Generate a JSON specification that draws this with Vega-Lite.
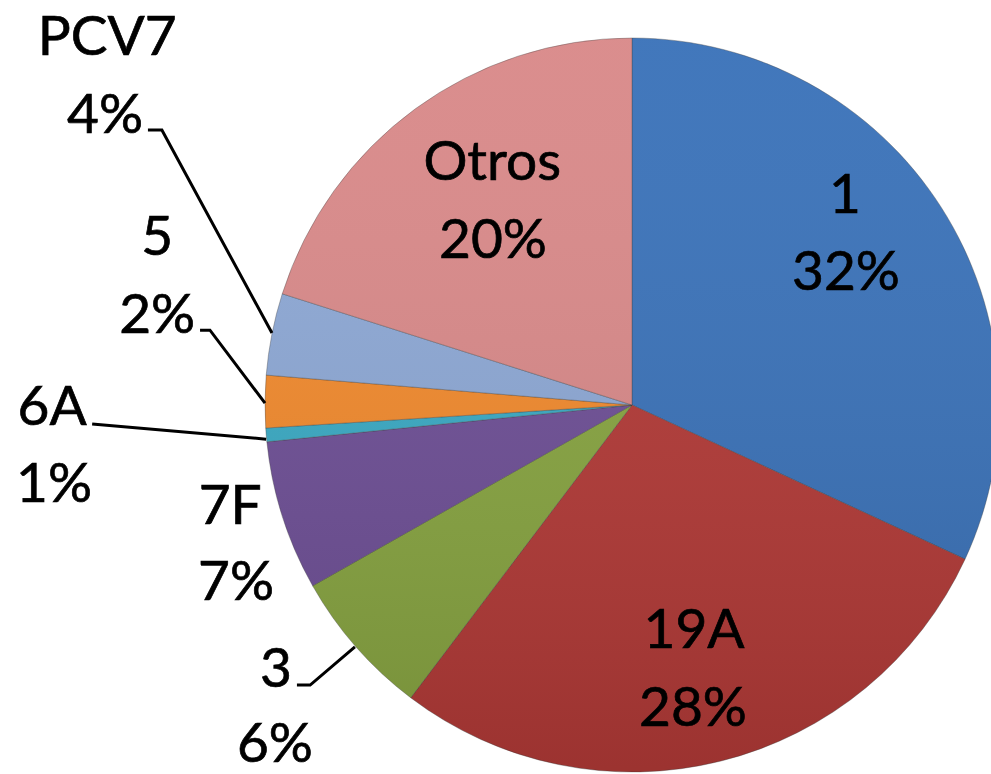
{
  "$schema": "https://vega.github.io/schema/vega-lite/v6.json",
  "width": 991,
  "height": 774,
  "autosize": "none",
  "padding": 0,
  "background": "white",
  "config": {"view": {"stroke": null}},
  "datasets": {
    "slices": [
      {"idx": 1, "serotipo": "1", "valor": 31.9},
      {"idx": 2, "serotipo": "19A", "valor": 28.4},
      {"idx": 3, "serotipo": "3", "valor": 6.5},
      {"idx": 4, "serotipo": "7F", "valor": 6.6},
      {"idx": 5, "serotipo": "6A", "valor": 0.6},
      {"idx": 6, "serotipo": "5", "valor": 2.3},
      {"idx": 7, "serotipo": "PCV7", "valor": 3.6},
      {"idx": 8, "serotipo": "Otros", "valor": 20.1}
    ],
    "labels": [
      {"t": "1", "lx": 58.0, "ly": 52.3},
      {"t": "32%", "lx": 58.3, "ly": 31.3},
      {"t": "Otros", "lx": -38.1, "ly": 61.3},
      {"t": "20%", "lx": -37.9, "ly": 40.0},
      {"t": "19A", "lx": 16.9, "ly": -66.2},
      {"t": "28%", "lx": 16.6, "ly": -87.5},
      {"t": "PCV7", "lx": -143.0, "ly": 95.4},
      {"t": "4%", "lx": -143.6, "ly": 74.1},
      {"t": "5", "lx": -129.4, "ly": 40.9},
      {"t": "2%", "lx": -129.4, "ly": 19.6},
      {"t": "6A", "lx": -158.0, "ly": -5.4},
      {"t": "1%", "lx": -157.5, "ly": -26.4},
      {"t": "7F", "lx": -109.5, "ly": -32.4},
      {"t": "7%", "lx": -107.9, "ly": -53.1},
      {"t": "3", "lx": -97.0, "ly": -76.8},
      {"t": "6%", "lx": -97.3, "ly": -97.3}
    ],
    "leaders": [
      {"g": "PCV7", "i": 1, "px": -131.9, "py": 74.9},
      {"g": "PCV7", "i": 2, "px": -128.1, "py": 74.9},
      {"g": "PCV7", "i": 3, "px": -98.1, "py": 19.6},
      {"g": "5", "i": 1, "px": -117.7, "py": 20.4},
      {"g": "5", "i": 2, "px": -115.0, "py": 20.4},
      {"g": "5", "i": 3, "px": -100.0, "py": 0.5},
      {"g": "6A", "i": 1, "px": -147.1, "py": -5.2},
      {"g": "6A", "i": 2, "px": -99.7, "py": -9.3},
      {"g": "3", "i": 1, "px": -91.3, "py": -76.3},
      {"g": "3", "i": 2, "px": -87.7, "py": -76.3},
      {"g": "3", "i": 3, "px": -75.5, "py": -65.9}
    ]
  },
  "resolve": {"scale": {"x": "shared", "y": "shared"}},
  "layer": [
    {
      "data": {"name": "slices"},
      "mark": {"type": "arc", "radius": 367, "stroke": "#3a3a3a", "strokeOpacity": 0.35, "strokeWidth": 1},
      "encoding": {
        "x": {"datum": 0, "type": "quantitative", "scale": {"domain": [-172.21, 97.82], "nice": false, "zero": false}, "axis": null},
        "y": {"datum": 0, "type": "quantitative", "scale": {"domain": [-100.54, 110.35], "nice": false, "zero": false}, "axis": null},
        "theta": {"field": "valor", "type": "quantitative", "stack": true},
        "order": {"field": "idx", "type": "quantitative"},
        "color": {
          "field": "serotipo",
          "type": "nominal",
          "legend": null,
          "scale": {
            "domain": ["1", "19A", "3", "7F", "6A", "5", "PCV7", "Otros"],
            "range": ["#3A72B9", "#B33A37", "#88A541", "#6E4F96", "#3AAAC4", "#F28A2D", "#8DA8D5", "#D98989"]
          }
        }
      }
    },
    {
      "data": {"values": [{"k": 1}]},
      "mark": {
        "type": "arc",
        "radius": 367,
        "theta": 0,
        "theta2": 6.2832,
        "fill": {
          "gradient": "linear",
          "x1": 0, "y1": 0, "x2": 0, "y2": 1,
          "stops": [
            {"offset": 0, "color": "rgba(255,255,255,0.04)"},
            {"offset": 1, "color": "rgba(0,0,0,0.13)"}
          ]
        }
      },
      "encoding": {
        "x": {"datum": 0, "type": "quantitative"},
        "y": {"datum": 0, "type": "quantitative"}
      }
    },
    {
      "data": {"name": "leaders"},
      "mark": {"type": "line", "color": "#000000", "strokeWidth": 3},
      "encoding": {
        "x": {"field": "px", "type": "quantitative"},
        "y": {"field": "py", "type": "quantitative"},
        "detail": {"field": "g"},
        "order": {"field": "i", "type": "quantitative"}
      }
    },
    {
      "data": {"name": "labels"},
      "mark": {"type": "text", "font": "Lato", "fontSize": 55, "align": "center", "baseline": "alphabetic", "color": "#000000", "stroke": "#000000", "strokeWidth": 0.7},
      "encoding": {
        "x": {"field": "lx", "type": "quantitative"},
        "y": {"field": "ly", "type": "quantitative"},
        "text": {"field": "t"}
      }
    }
  ]
}
